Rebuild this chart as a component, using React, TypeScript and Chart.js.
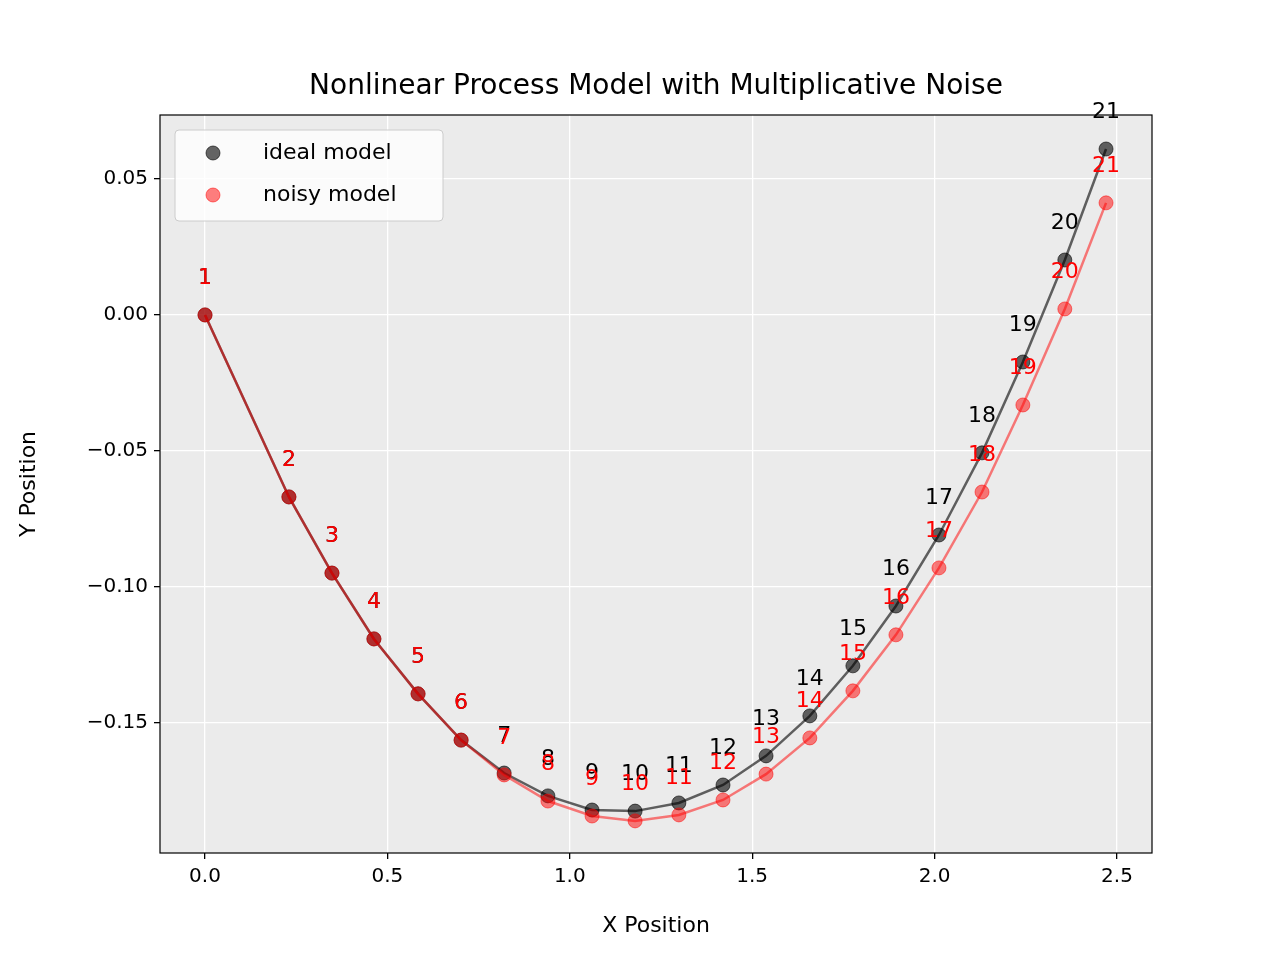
import React, { useEffect, useRef } from "react";
import Chart from "chart.js/auto";

const xValues = [0, 0.23, 0.348, 0.463, 0.584, 0.702, 0.82, 0.94, 1.061, 1.179, 1.299, 1.42, 1.538, 1.658, 1.776, 1.894, 2.012, 2.13, 2.242, 2.357, 2.47];
const idealY = [0, -0.0669, -0.0949, -0.1191, -0.1393, -0.1563, -0.1684, -0.1768, -0.182, -0.1824, -0.1794, -0.1728, -0.1621, -0.1474, -0.129, -0.107, -0.0809, -0.0507, -0.0173, 0.0202, 0.061];
const noisyY = [0, -0.0669, -0.0949, -0.1191, -0.1393, -0.1563, -0.1691, -0.1787, -0.1842, -0.186, -0.1838, -0.1783, -0.1688, -0.1555, -0.1382, -0.1176, -0.093, -0.0651, -0.0331, 0.0022, 0.0412];
const seriesLabels = ["ideal model", "noisy model"];

const FONT = "'DejaVu Sans', sans-serif";
const idealColor = "rgba(0,0,0,0.6)";
const noisyColor = "rgba(255,0,0,0.5)";

const decor = {
  id: "decor",
  beforeDraw(chart: any) {
    const { ctx, chartArea: a } = chart;
    ctx.save();
    ctx.fillStyle = "#ebebeb";
    ctx.fillRect(a.left, a.top, a.right - a.left, a.bottom - a.top);
    ctx.restore();
  },
  afterDraw(chart: any) {
    const { ctx, chartArea: a, scales } = chart;
    ctx.save();
    ctx.strokeStyle = "#000";
    ctx.lineWidth = 1.2;
    ctx.strokeRect(a.left, a.top, a.right - a.left, a.bottom - a.top);
    // point number labels
    ctx.font = `22px ${FONT}`;
    ctx.textAlign = "center";
    ctx.textBaseline = "middle";
    xValues.forEach((x, i) => {
      const px = scales.x.getPixelForValue(x);
      ctx.fillStyle = "#000";
      ctx.fillText(String(i + 1), px, scales.y.getPixelForValue(idealY[i]) - 37);
    });
    xValues.forEach((x, i) => {
      const px = scales.x.getPixelForValue(x);
      ctx.fillStyle = "#ff0000";
      ctx.fillText(String(i + 1), px, scales.y.getPixelForValue(noisyY[i]) - 37);
    });
    // titles
    ctx.fillStyle = "#000";
    ctx.font = `28px ${FONT}`;
    ctx.fillText("Nonlinear Process Model with Multiplicative Noise", (a.left + a.right) / 2, 87);
    ctx.font = `22px ${FONT}`;
    ctx.fillText("X Position", (a.left + a.right) / 2, 926);
    ctx.save();
    ctx.translate(29, (a.top + a.bottom) / 2);
    ctx.rotate(-Math.PI / 2);
    ctx.fillText("Y Position", 0, 0);
    ctx.restore();
    // legend
    ctx.fillStyle = "rgba(255,255,255,0.8)";
    ctx.strokeStyle = "#cccccc";
    ctx.lineWidth = 1;
    ctx.beginPath();
    ctx.roundRect(175, 130, 268, 91, 4);
    ctx.fill();
    ctx.stroke();
    ctx.font = `22px ${FONT}`;
    ctx.textAlign = "left";
    [idealColor, noisyColor].forEach((c, i) => {
      const y = 153 + i * 42;
      ctx.beginPath();
      ctx.arc(213, y, 7, 0, Math.PI * 2);
      ctx.fillStyle = c;
      ctx.fill();
      ctx.strokeStyle = c;
      ctx.stroke();
      ctx.fillStyle = "#000";
      ctx.fillText(seriesLabels[i], 263, y);
    });
    ctx.restore();
  },
};

export default function App() {
  const canvasRef = useRef<HTMLCanvasElement>(null);
  const chartRef = useRef<Chart | null>(null);

  useEffect(() => {
    if (!canvasRef.current) return;
    document.body.style.margin = "0";
    if (chartRef.current) chartRef.current.destroy();

    const mk = (ys: number[], color: string, label: string) => ({
      label,
      data: xValues.map((x, i) => ({ x, y: ys[i] })),
      borderColor: color,
      backgroundColor: color,
      pointBorderColor: color,
      pointBackgroundColor: color,
      pointRadius: 7,
      pointBorderWidth: 1,
      borderWidth: 2.5,
      showLine: true,
      tension: 0,
    });

    const tickFont = { family: "DejaVu Sans", size: 20 };

    chartRef.current = new Chart(canvasRef.current, {
      type: "scatter",
      data: { datasets: [mk(noisyY, noisyColor, seriesLabels[1]), mk(idealY, idealColor, seriesLabels[0])] },
      plugins: [decor],
      options: {
        animation: false,
        responsive: false,
        devicePixelRatio: 1,
        layout: { padding: { left: 0, top: 115, right: 128, bottom: 0 } },
        plugins: { legend: { display: false }, title: { display: false }, tooltip: { enabled: false } },
        scales: {
          x: {
            type: "linear",
            min: -0.1234,
            max: 2.596,
            afterFit: (s: any) => { s.height = 107; },
            afterBuildTicks: (s: any) => {
              s.ticks = [0, 0.5, 1, 1.5, 2, 2.5].map((v) => ({ value: v }));
            },
            ticks: { color: "#000", font: tickFont, padding: 6, maxRotation: 0, callback: (v: any) => Number(v).toFixed(1) },
            grid: { color: "#ffffff", lineWidth: 1.3, tickColor: "#000", tickLength: 6 },
            border: { display: false },
          },
          y: {
            type: "linear",
            min: -0.1978,
            max: 0.0735,
            afterFit: (s: any) => { s.width = 160; },
            afterBuildTicks: (s: any) => {
              s.ticks = [-0.15, -0.1, -0.05, 0, 0.05].map((v) => ({ value: v }));
            },
            ticks: {
              color: "#000",
              font: tickFont,
              padding: 6,
              callback: (v: any) => Number(v).toFixed(2).replace("-", "\u2212"),
            },
            grid: { color: "#ffffff", lineWidth: 1.3, tickColor: "#000", tickLength: 6 },
            border: { display: false },
          },
        },
      },
    });

    return () => chartRef.current?.destroy();
  }, []);

  return (
    <div style={{ width: 1280, height: 960, background: "#fff" }}>
      <canvas ref={canvasRef} width={1280} height={960} style={{ width: 1280, height: 960 }} />
    </div>
  );
}
